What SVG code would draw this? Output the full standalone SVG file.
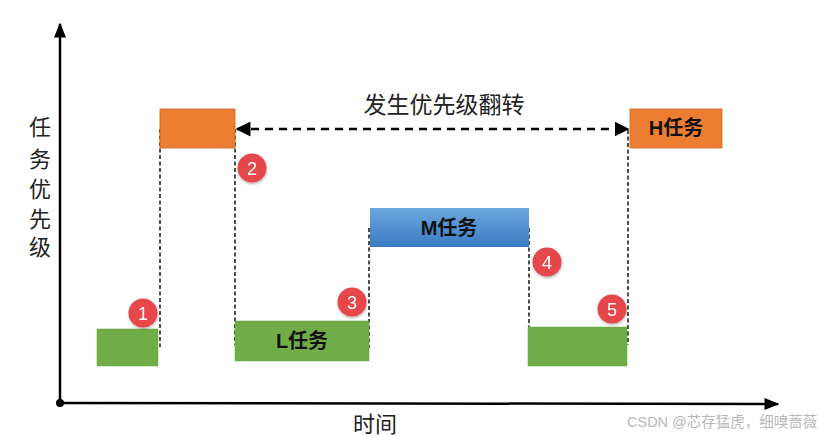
<svg xmlns="http://www.w3.org/2000/svg" width="835" height="436" viewBox="0 0 835 436">
<defs>
<linearGradient id="blue" x1="0" y1="0" x2="0" y2="1">
<stop offset="0" stop-color="#6CA6DE"/>
<stop offset="1" stop-color="#3A7CC3"/>
</linearGradient>
<marker id="ah" viewBox="0 0 10 10" refX="9" refY="5" markerWidth="6" markerHeight="6" orient="auto-start-reverse">
<path d="M0,0 L10,5 L0,10 z" fill="#000"/>
</marker>
<marker id="axh" viewBox="0 0 10 10" refX="9" refY="5" markerWidth="6" markerHeight="6" orient="auto">
<path d="M0,1 L10,5 L0,9 z" fill="#000"/>
</marker>
<filter id="sh" x="-30%" y="-30%" width="160%" height="160%">
<feDropShadow dx="0.5" dy="1.5" stdDeviation="1" flood-color="#000" flood-opacity="0.3"/>
</filter>
</defs>
<style>
.t{font-family:"Liberation Sans","Noto Sans CJK SC",sans-serif;fill:#111}
.lab{font-size:20px;font-weight:bold;text-anchor:middle}
.ax{font-size:22px;text-anchor:middle;fill:#222}
.vd{stroke:#222;stroke-width:1.6;stroke-dasharray:4 2.5;fill:none}
.badge circle{fill:#E5474B}
.badge text{font-family:"Liberation Sans",sans-serif;font-size:18px;fill:#fff;text-anchor:middle}
.green{fill:#70AD47;stroke:#6aa544;stroke-width:0.5}
.orange{fill:#ED7D31;stroke:#c86a2a;stroke-width:0.8}
</style>
<rect width="835" height="436" fill="#fff"/>
<g id="axes">
<line x1="60" y1="403" x2="60" y2="24" stroke="#000" stroke-width="2.5" marker-end="url(#axh)"/>
<line x1="60" y1="403" x2="778" y2="404" stroke="#000" stroke-width="2.5" marker-end="url(#axh)"/>
<circle cx="60" cy="403" r="4" fill="#000"/>
</g>
<g id="ylabel" class="t">
<text class="ax" x="40" y="135">任</text>
<text class="ax" x="40" y="167">务</text>
<text class="ax" x="40" y="197">优</text>
<text class="ax" x="40" y="227">先</text>
<text class="ax" x="40" y="255">级</text>
</g>
<g id="xlabel" class="t">
<text class="ax" x="375" y="432">时间</text>
</g>
<g id="connectors">
<line class="vd" x1="160" y1="129" x2="160" y2="347"/>
<line class="vd" x1="235" y1="129" x2="235" y2="345"/>
<line class="vd" x1="369" y1="228" x2="369" y2="348"/>
<line class="vd" x1="529" y1="228" x2="529" y2="327"/>
<line class="vd" x1="628" y1="130" x2="628" y2="345"/>
<line x1="237" y1="129" x2="628" y2="129" stroke="#000" stroke-width="2.5" stroke-dasharray="8 6" marker-start="url(#ah)" marker-end="url(#ah)"/>
</g>
<g id="inversion-label" class="t">
<text x="444" y="113" font-size="23" text-anchor="middle" fill="#222">发生优先级翻转</text>
</g>
<g id="L1"><rect class="green" x="97" y="329" width="61" height="37"/></g>
<g id="H1"><rect class="orange" x="160" y="109" width="75" height="39"/></g>
<g id="L2">
<rect class="green" x="235" y="321" width="134" height="40"/>
<text class="t lab" x="302" y="348">L任务</text>
</g>
<g id="M">
<rect x="370" y="208" width="159" height="39" fill="url(#blue)"/>
<text class="t lab" x="449" y="235">M任务</text>
</g>
<g id="L3"><rect class="green" x="528" y="327" width="99" height="39"/></g>
<g id="H2">
<rect class="orange" x="630" y="109" width="92" height="39"/>
<text class="t lab" x="676" y="135">H任务</text>
</g>
<g id="b1" class="badge" filter="url(#sh)"><circle cx="143" cy="313" r="14.5"/><text x="143" y="319.5">1</text></g>
<g id="b2" class="badge" filter="url(#sh)"><circle cx="252" cy="168" r="14.5"/><text x="252" y="174.5">2</text></g>
<g id="b3" class="badge" filter="url(#sh)"><circle cx="352" cy="302" r="14.5"/><text x="352" y="308.5">3</text></g>
<g id="b4" class="badge" filter="url(#sh)"><circle cx="547" cy="262" r="14.5"/><text x="547" y="268.5">4</text></g>
<g id="b5" class="badge" filter="url(#sh)"><circle cx="612" cy="309" r="14.5"/><text x="612" y="315.5">5</text></g>
<g id="watermark">
<text x="627" y="427" font-family="Liberation Sans,'Noto Sans CJK SC',sans-serif" font-size="14.5" fill="#b8b8b8">CSDN @芯存猛虎，细嗅蔷薇</text>
</g>
</svg>
